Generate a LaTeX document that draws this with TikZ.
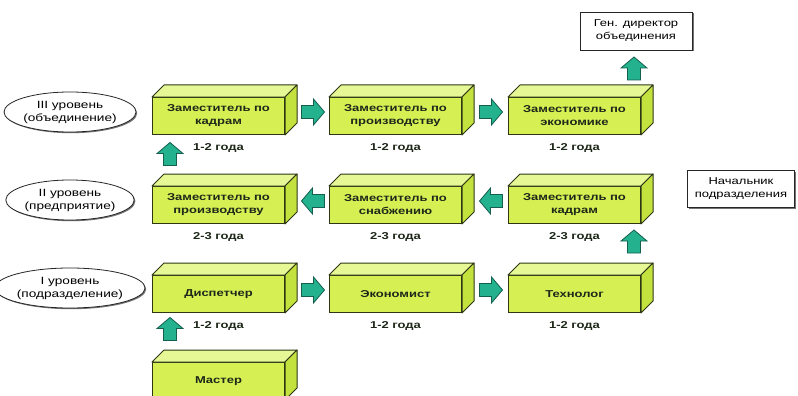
\documentclass[tikz,border=0pt]{standalone}
\usepackage{fontspec}
\setmainfont{Liberation Sans}[FakeStretch=1.3]
\usetikzlibrary{shapes.geometric,calc,shadows}
\definecolor{frontc}{RGB}{214,240,84}
\definecolor{topc}{RGB}{230,248,150}
\definecolor{sidec}{RGB}{196,226,62}
\definecolor{edgec}{RGB}{45,55,20}
\definecolor{arrowc}{RGB}{36,178,142}
\definecolor{arrowe}{RGB}{20,95,78}
\definecolor{txtc}{RGB}{30,40,25}
\tikzset{
  front/.style={draw=edgec, fill=frontc, line width=1pt, minimum width=132pt, minimum height=37pt,
    inner sep=0pt, anchor=north west, align=center, text=txtc,
    font=\fontsize{10}{13}\selectfont\bfseries},
  topface/.style={draw=edgec, fill=topc, line width=1pt, line join=round},
  sideface/.style={draw=edgec, fill=sidec, line width=1pt, line join=round},
  yearlbl/.style={font=\fontsize{10}{12}\selectfont\bfseries, text=txtc, inner sep=0pt},
  blockarr/.style={draw=arrowe, fill=arrowc, line width=0.8pt, line join=miter},
  level/.style={ellipse, draw=black!85, fill=white, line width=0.8pt, minimum width=120pt, minimum height=40pt,
    inner sep=0pt, align=center, font=\fontsize{10.5}{13}\selectfont,
    drop shadow={shadow xshift=1.2pt, shadow yshift=-1.2pt, fill=black!55, opacity=1}},
  infobox/.style={draw=black!85, fill=white, line width=0.8pt, inner sep=0pt, align=center,
    font=\fontsize{10}{13}\selectfont,
    drop shadow={shadow xshift=1.5pt, shadow yshift=-1.5pt, fill=black!55, opacity=1}}
}
\newcommand\cuboid[4]{%
  \node[front] (#1) at (#2,#3) {#4};
  \path[topface] (#1.north west) -- ++(12pt,12pt) -- ($(#1.north east)+(12pt,12pt)$) -- (#1.north east) -- cycle;
  \path[sideface] (#1.north east) -- ++(12pt,12pt) -- ($(#1.south east)+(12pt,12pt)$) -- (#1.south east) -- cycle;
}
% block arrow: name, angle (drawn at coordinate #1)
\newcommand\blockarrow[2]{%
  \begin{scope}[shift={(#1)}, rotate=#2]
    \path[blockarr] (-11.5,-6.5) -- (0.5,-6.5) -- (0.5,-13) -- (11.5,0) -- (0.5,13) -- (0.5,6.5) -- (-11.5,6.5) -- cycle;
  \end{scope}
}
\begin{document}
\begin{tikzpicture}[x=1pt,y=-1pt]
\useasboundingbox (0,0) rectangle (798,396);
\fill[white] (0,0) rectangle (798,396);

% level ellipses
\node[level] (lv3) at (70,112) {III уровень\\(объединение)};
\node[level] (lv2) at (70,200) {II уровень\\(предприятие)};
\node[level] (lv1) at (70,288) {I уровень\\(подразделение)};

% boxes
\cuboid{k31}{152}{97}{Заместитель по\\кадрам}
\cuboid{k32}{329}{97}{Заместитель по\\производству}
\cuboid{k33}{508}{97}{Заместитель по\\экономике}
\cuboid{k21}{152}{186}{Заместитель по\\производству}
\cuboid{k22}{329}{186}{Заместитель по\\снабжению}
\cuboid{k23}{508}{186}{Заместитель по\\кадрам}
\cuboid{k11}{152}{275}{Диспетчер}
\cuboid{k12}{329}{275}{Экономист}
\cuboid{k13}{508}{275}{Технолог}
\cuboid{k0}{152}{362}{Мастер}

% year labels
\node[yearlbl] (y31) at ($(k31.south)+(0,13)$) {1-2 года};
\node[yearlbl] (y32) at ($(k32.south)+(0,13)$) {1-2 года};
\node[yearlbl] (y33) at ($(k33.south)+(0,13)$) {1-2 года};
\node[yearlbl] (y21) at ($(k21.south)+(0,13)$) {2-3 года};
\node[yearlbl] (y22) at ($(k22.south)+(0,13)$) {2-3 года};
\node[yearlbl] (y23) at ($(k23.south)+(0,13)$) {2-3 года};
\node[yearlbl] (y11) at ($(k11.south)+(0,13)$) {1-2 года};
\node[yearlbl] (y12) at ($(k12.south)+(0,13)$) {1-2 года};
\node[yearlbl] (y13) at ($(k13.south)+(0,13)$) {1-2 года};

% info boxes
\node[infobox, minimum width=112pt, minimum height=38pt] (gen) at (636,31) {Ген. директор\\объединения};
\node[infobox, minimum width=107pt, minimum height=37pt] (nach) at (741,188.5) {Начальник\\подразделения};

% arrow positions
\coordinate (a31) at ($(k31.east)!0.5!(k32.west)+(6pt,4pt)$);
\coordinate (a32) at ($(k32.east)!0.5!(k33.west)+(6pt,4pt)$);
\coordinate (a21) at ($(k21.east)!0.5!(k22.west)+(6pt,4pt)$);
\coordinate (a22) at ($(k22.east)!0.5!(k23.west)+(6pt,4pt)$);
\coordinate (a11) at ($(k11.east)!0.5!(k12.west)+(6pt,4pt)$);
\coordinate (a12) at ($(k12.east)!0.5!(k13.west)+(6pt,4pt)$);
\coordinate (u0) at (170,329);
\coordinate (u13) at (634,241.5);
\coordinate (u21) at (170,154);
\coordinate (u33) at (634,68.5);

% horizontal arrows
\blockarrow{a31}{0}
\blockarrow{a32}{0}
\blockarrow{a21}{180}
\blockarrow{a22}{180}
\blockarrow{a11}{0}
\blockarrow{a12}{0}
% vertical arrows
\blockarrow{u0}{90}
\blockarrow{u13}{90}
\blockarrow{u21}{90}
\blockarrow{u33}{90}
\end{tikzpicture}
\end{document}
